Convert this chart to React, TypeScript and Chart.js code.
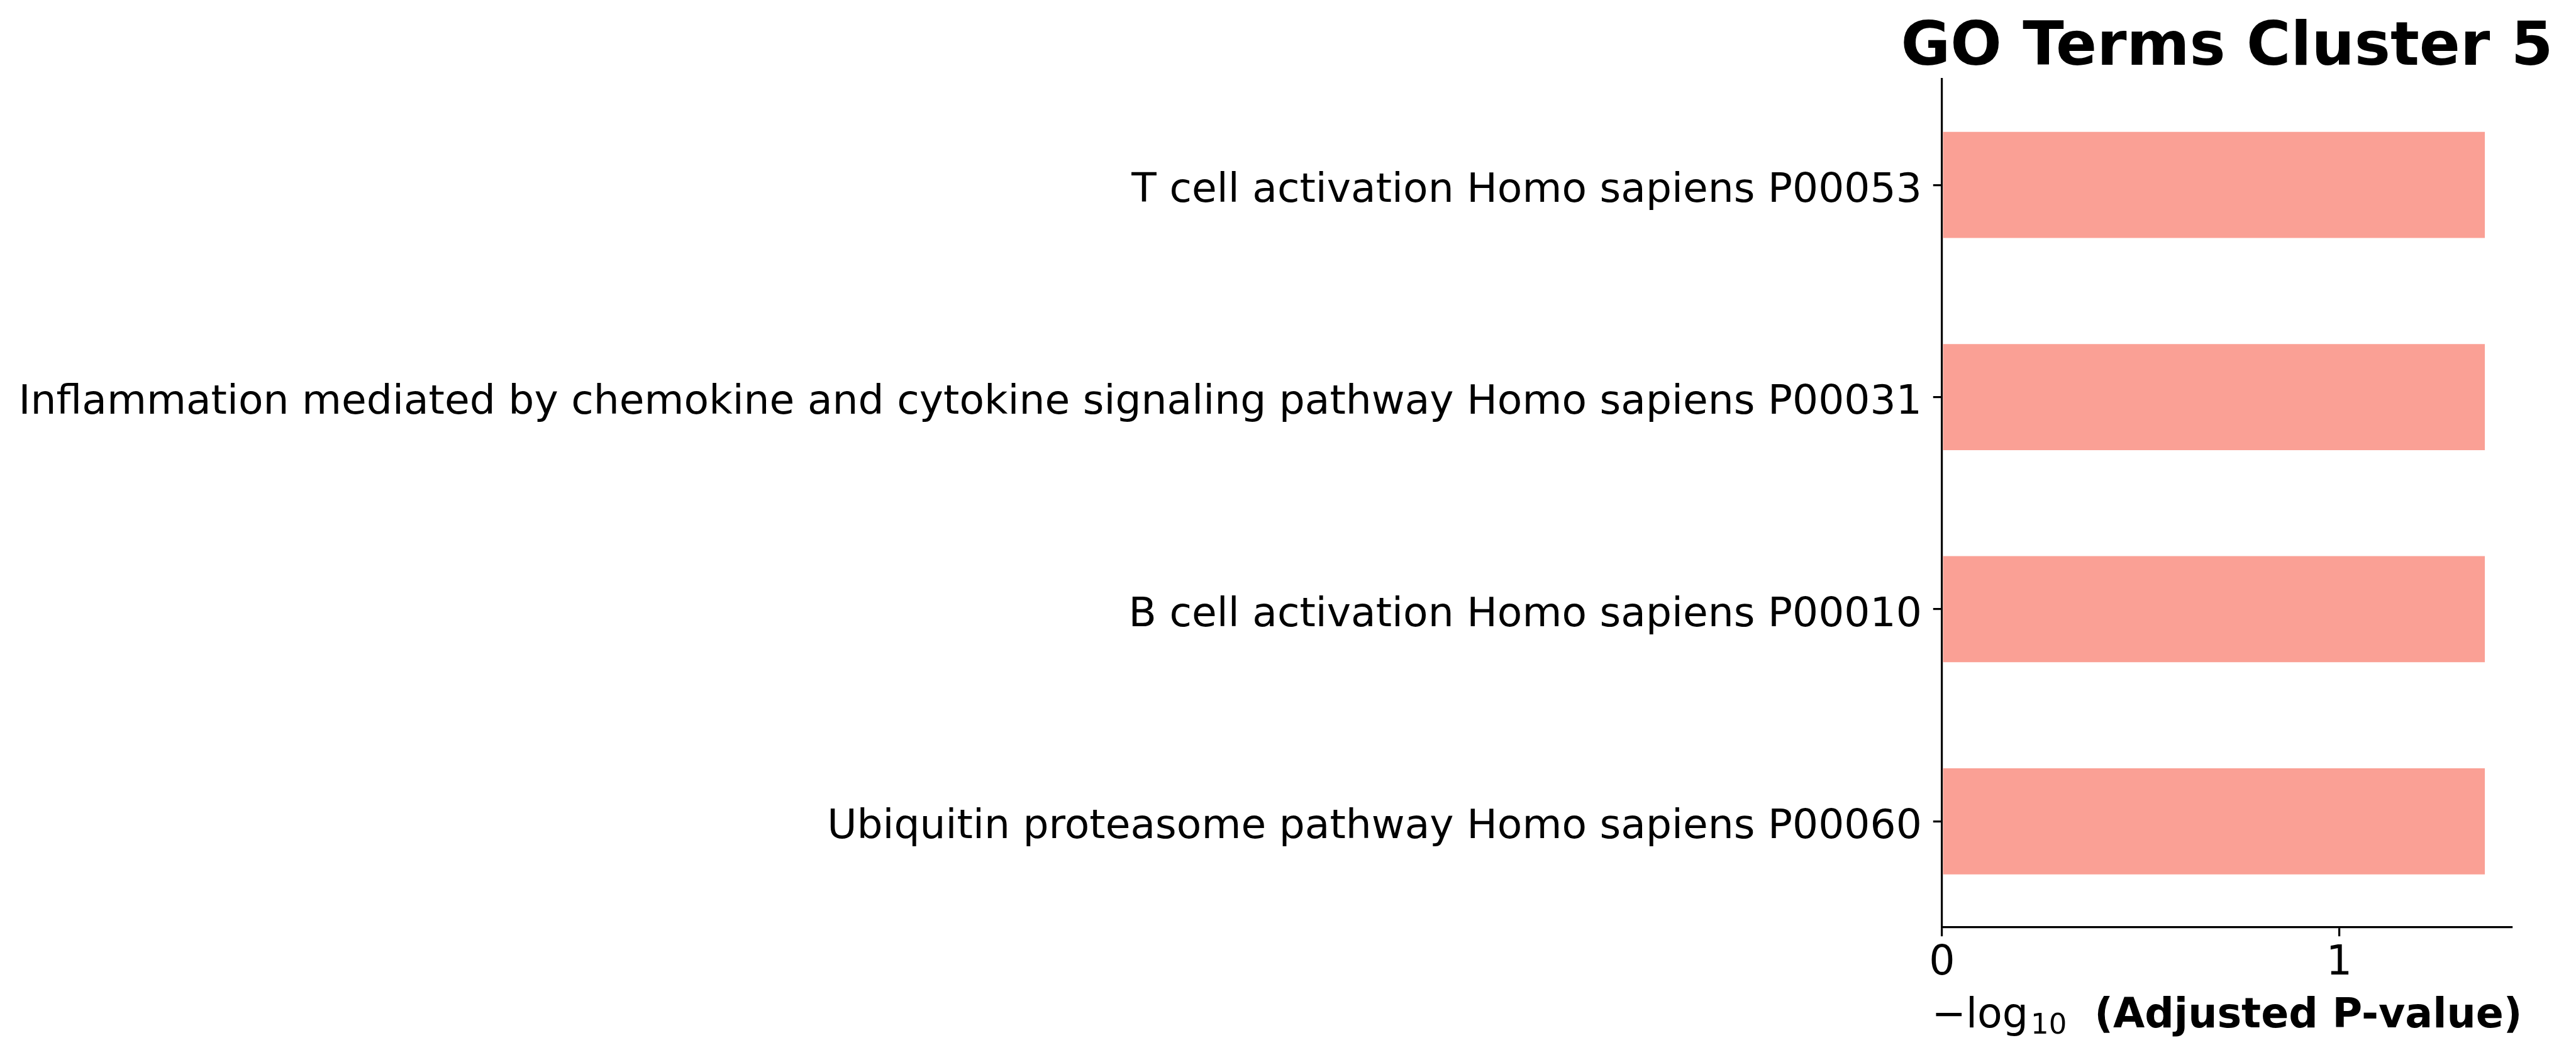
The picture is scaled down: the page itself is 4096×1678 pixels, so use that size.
import React, { useEffect, useRef } from 'react';
import { Chart, registerables } from 'chart.js';

Chart.register(...registerables);

const categories = [
  'T cell activation Homo sapiens P00053',
  'Inflammation mediated by chemokine and cytokine signaling pathway Homo sapiens P00031',
  'B cell activation Homo sapiens P00010',
  'Ubiquitin proteasome pathway Homo sapiens P00060',
];
const values = [1.367, 1.367, 1.367, 1.367];
const xTicks = [0, 1];
const xMin = 0;
const xMax = 1.435;
const chartTitle = 'GO Terms Cluster 5';
const xTitleMain = '\u2212log';
const xTitleSub = '10';
const xTitleBold = '(Adjusted P-value)';

const W = 4096;
const H = 1678;
const FONT = '"DejaVu Sans", "Liberation Sans", sans-serif';

const titlesPlugin = {
  id: 'customTitles',
  afterDraw(chart: any) {
    const { ctx, chartArea } = chart;
    const cx = (chartArea.left + chartArea.right) / 2;
    ctx.save();
    ctx.fillStyle = '#000';
    ctx.textBaseline = 'alphabetic';
    ctx.textAlign = 'center';
    ctx.font = `bold 96px ${FONT}`;
    ctx.fillText(chartTitle, cx, chartArea.top - 22.5);

    const base = chartArea.bottom + 159;
    ctx.textAlign = 'left';
    ctx.font = `65px ${FONT}`;
    const w1 = ctx.measureText(xTitleMain).width;
    ctx.font = `45px ${FONT}`;
    const w2 = ctx.measureText(xTitleSub).width;
    ctx.font = `bold 65px ${FONT}`;
    const w3 = ctx.measureText(xTitleBold).width;
    const gap1 = 4;
    const gap2 = 44;
    const total = w1 + gap1 + w2 + gap2 + w3;
    let x = cx - total / 2;
    ctx.font = `65px ${FONT}`;
    ctx.fillText(xTitleMain, x, base);
    x += w1 + gap1;
    ctx.font = `45px ${FONT}`;
    ctx.fillText(xTitleSub, x, base + 10);
    x += w2 + gap2;
    ctx.font = `bold 65px ${FONT}`;
    ctx.fillText(xTitleBold, x, base);
    ctx.restore();
  },
};

export default function App() {
  const ref = useRef<HTMLCanvasElement | null>(null);

  useEffect(() => {
    if (!ref.current) return;
    const chart = new Chart(ref.current, {
      type: 'bar',
      data: {
        labels: categories,
        datasets: [
          {
            data: values,
            backgroundColor: 'rgb(250,160,149)',
            borderWidth: 0,
            barPercentage: 0.5,
            categoryPercentage: 1,
          },
        ],
      },
      options: {
        indexAxis: 'y',
        responsive: false,
        animation: false,
        devicePixelRatio: 1,
        layout: { padding: { top: 125.5, right: W - 3994, left: 0, bottom: 0 } },
        plugins: {
          legend: { display: false },
          title: { display: false },
          tooltip: { enabled: false },
        },
        scales: {
          x: {
            type: 'linear',
            min: xMin,
            max: xMax,
            afterBuildTicks: (scale: any) => {
              scale.ticks = xTicks.map((v) => ({ value: v }));
            },
            afterFit: (scale: any) => {
              scale.height = H - 1475;
            },
            grid: {
              display: true,
              drawOnChartArea: false,
              drawTicks: true,
              tickLength: 14.2,
              lineWidth: 3.2,
              color: '#000',
            },
            border: { display: true, color: '#000', width: 3.2 },
            ticks: {
              color: '#000',
              font: { family: FONT, size: 65, lineHeight: 1.2 },
              padding: 5,
              maxRotation: 0,
              autoSkip: false,
            },
          },
          y: {
            type: 'category',
            offset: true,
            afterFit: (scale: any) => {
              scale.width = 3088;
            },
            grid: {
              display: true,
              offset: false,
              drawOnChartArea: false,
              drawTicks: true,
              tickLength: 14.2,
              lineWidth: 3.2,
              color: '#000',
            },
            border: { display: true, color: '#000', width: 3.2 },
            ticks: {
              color: '#000',
              font: { family: FONT, size: 64.7, lineHeight: 1.2 },
              padding: 18,
              labelOffset: 10,
              autoSkip: false,
            },
          },
        },
      },
      plugins: [titlesPlugin],
    } as any);
    return () => chart.destroy();
  }, []);

  return (
    <div style={{ position: 'fixed', left: 0, top: 0, width: W, height: H, background: '#fff' }}>
      <canvas ref={ref} width={W} height={H} style={{ width: W, height: H, display: 'block' }} />
    </div>
  );
}
